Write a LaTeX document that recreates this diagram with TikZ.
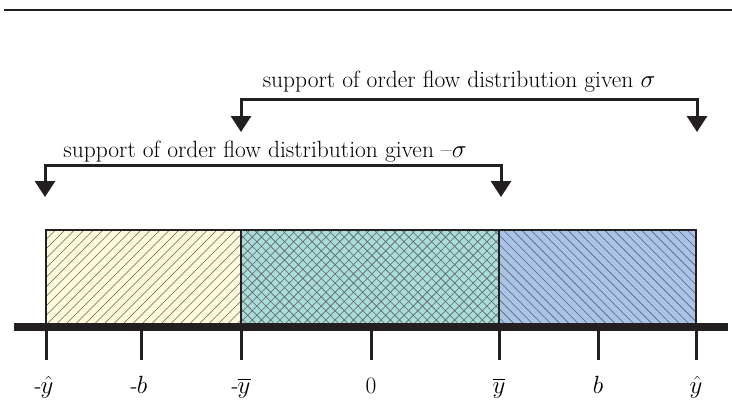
\documentclass[tikz,border=0pt]{standalone}
\usepackage{amsmath,amssymb}
\usepackage{xcolor}
\usepackage{tikz}
\usetikzlibrary{arrows.meta}

\definecolor{lowband}{RGB}{255,250,218}
\definecolor{midband}{RGB}{168,221,218}
\definecolor{highband}{RGB}{168,196,232}
\definecolor{ink}{RGB}{35,31,32}

\begin{document}
\begin{tikzpicture}[
  x=1pt, y=-1pt,
  font=\fontsize{23.5}{28}\selectfont,
  band/.style={draw=ink, line width=1.2pt},
  hatchline/.style={draw=black!62, line width=0.6pt},
  axis/.style={draw=ink, line width=8.5pt},
  tick/.style={draw=ink, line width=3pt},
  bracket/.style={draw=ink, line width=3pt, line join=miter,
    {Triangle[width=20pt,length=16pt]}-{Triangle[width=20pt,length=16pt]}},
  lbl/.style={anchor=base, inner sep=0pt},
]
\useasboundingbox (0,0) rectangle (732,413);

% rule along the top
\draw[line width=1.3pt, ink] (4,10) -- (732,10);

% points on the axis
\coordinate (nyh) at (46,327);
\coordinate (nb)  at (141,327);
\coordinate (nyb) at (241,327);
\coordinate (zr)  at (371,327);
\coordinate (yb)  at (499,327);
\coordinate (pb)  at (598,327);
\coordinate (yh)  at (696,327);

% the three bands: fill, hatching, outline
\fill[lowband]  (46,230)  rectangle (nyb);
\fill[midband]  (241,230) rectangle (yb);
\fill[highband] (499,230) rectangle (yh);
\begin{scope}
  \clip (46,230) rectangle (nyb);
  \foreach \s in {-51,-41.5,...,245} \draw[hatchline] (\s,327) -- ++(97,-97);
\end{scope}
\begin{scope}
  \clip (241,230) rectangle (yb);
  \foreach \s in {144,153.2,...,505} \draw[hatchline] (\s,327) -- ++(97,-97);
  \foreach \s in {144,153.2,...,505} \draw[hatchline] (\s,230) -- ++(97,97);
\end{scope}
\begin{scope}
  \clip (499,230) rectangle (yh);
  \foreach \s in {402,411.2,...,700} \draw[hatchline] (\s,230) -- ++(97,97);
\end{scope}
\draw[band] (46,230) rectangle (nyb);
\draw[band] (241,230) rectangle (yb);
\draw[band] (499,230) rectangle (yh);

% axis and ticks
\coordinate (axL) at (14,327);
\coordinate (axR) at (728,327);
\draw[axis] (axL) -- (axR);
\draw[tick] (nyh) -- ++(0,33);
\draw[tick] (nb)  -- ++(0,33);
\draw[tick] (nyb) -- ++(0,33);
\draw[tick] (zr)  -- ++(0,33);
\draw[tick] (yb)  -- ++(0,33);
\draw[tick] (pb)  -- ++(0,33);
\draw[tick] (yh)  -- ++(0,33);

% tick labels
\node[lbl] (lnyh) at (43,393)  {\textit{-}$\hat{y}$};
\node[lbl] (lnb)  at (138,393) {\textit{-}$b$};
\node[lbl] (lnyb) at (240,393) {\textit{-}$\overline{y}$};
\node[lbl] (lzr)  at (371,393) {0};
\node[lbl] (lyb)  at (499,393) {$\overline{y}$};
\node[lbl] (lpb)  at (598,393) {$b$};
\node[lbl] (lyh)  at (696,393) {$\hat{y}$};

% supports, with their brackets
\node[lbl] (sigtext) at (459,87)  {support of order flow distribution given $\sigma$};
\node[lbl] (negtext) at (265,157) {support of order flow distribution given --$\sigma$};

\coordinate (sigL) at (241,132);
\coordinate (sigR) at (697,132);
\coordinate (sigbar) at (469,99);
\draw[bracket] (sigL) |- (sigbar) -| (sigR);

\coordinate (negL) at (45,197);
\coordinate (negR) at (501,197);
\coordinate (negbar) at (273,165);
\draw[bracket] (negL) |- (negbar) -| (negR);
\end{tikzpicture}
\end{document}
